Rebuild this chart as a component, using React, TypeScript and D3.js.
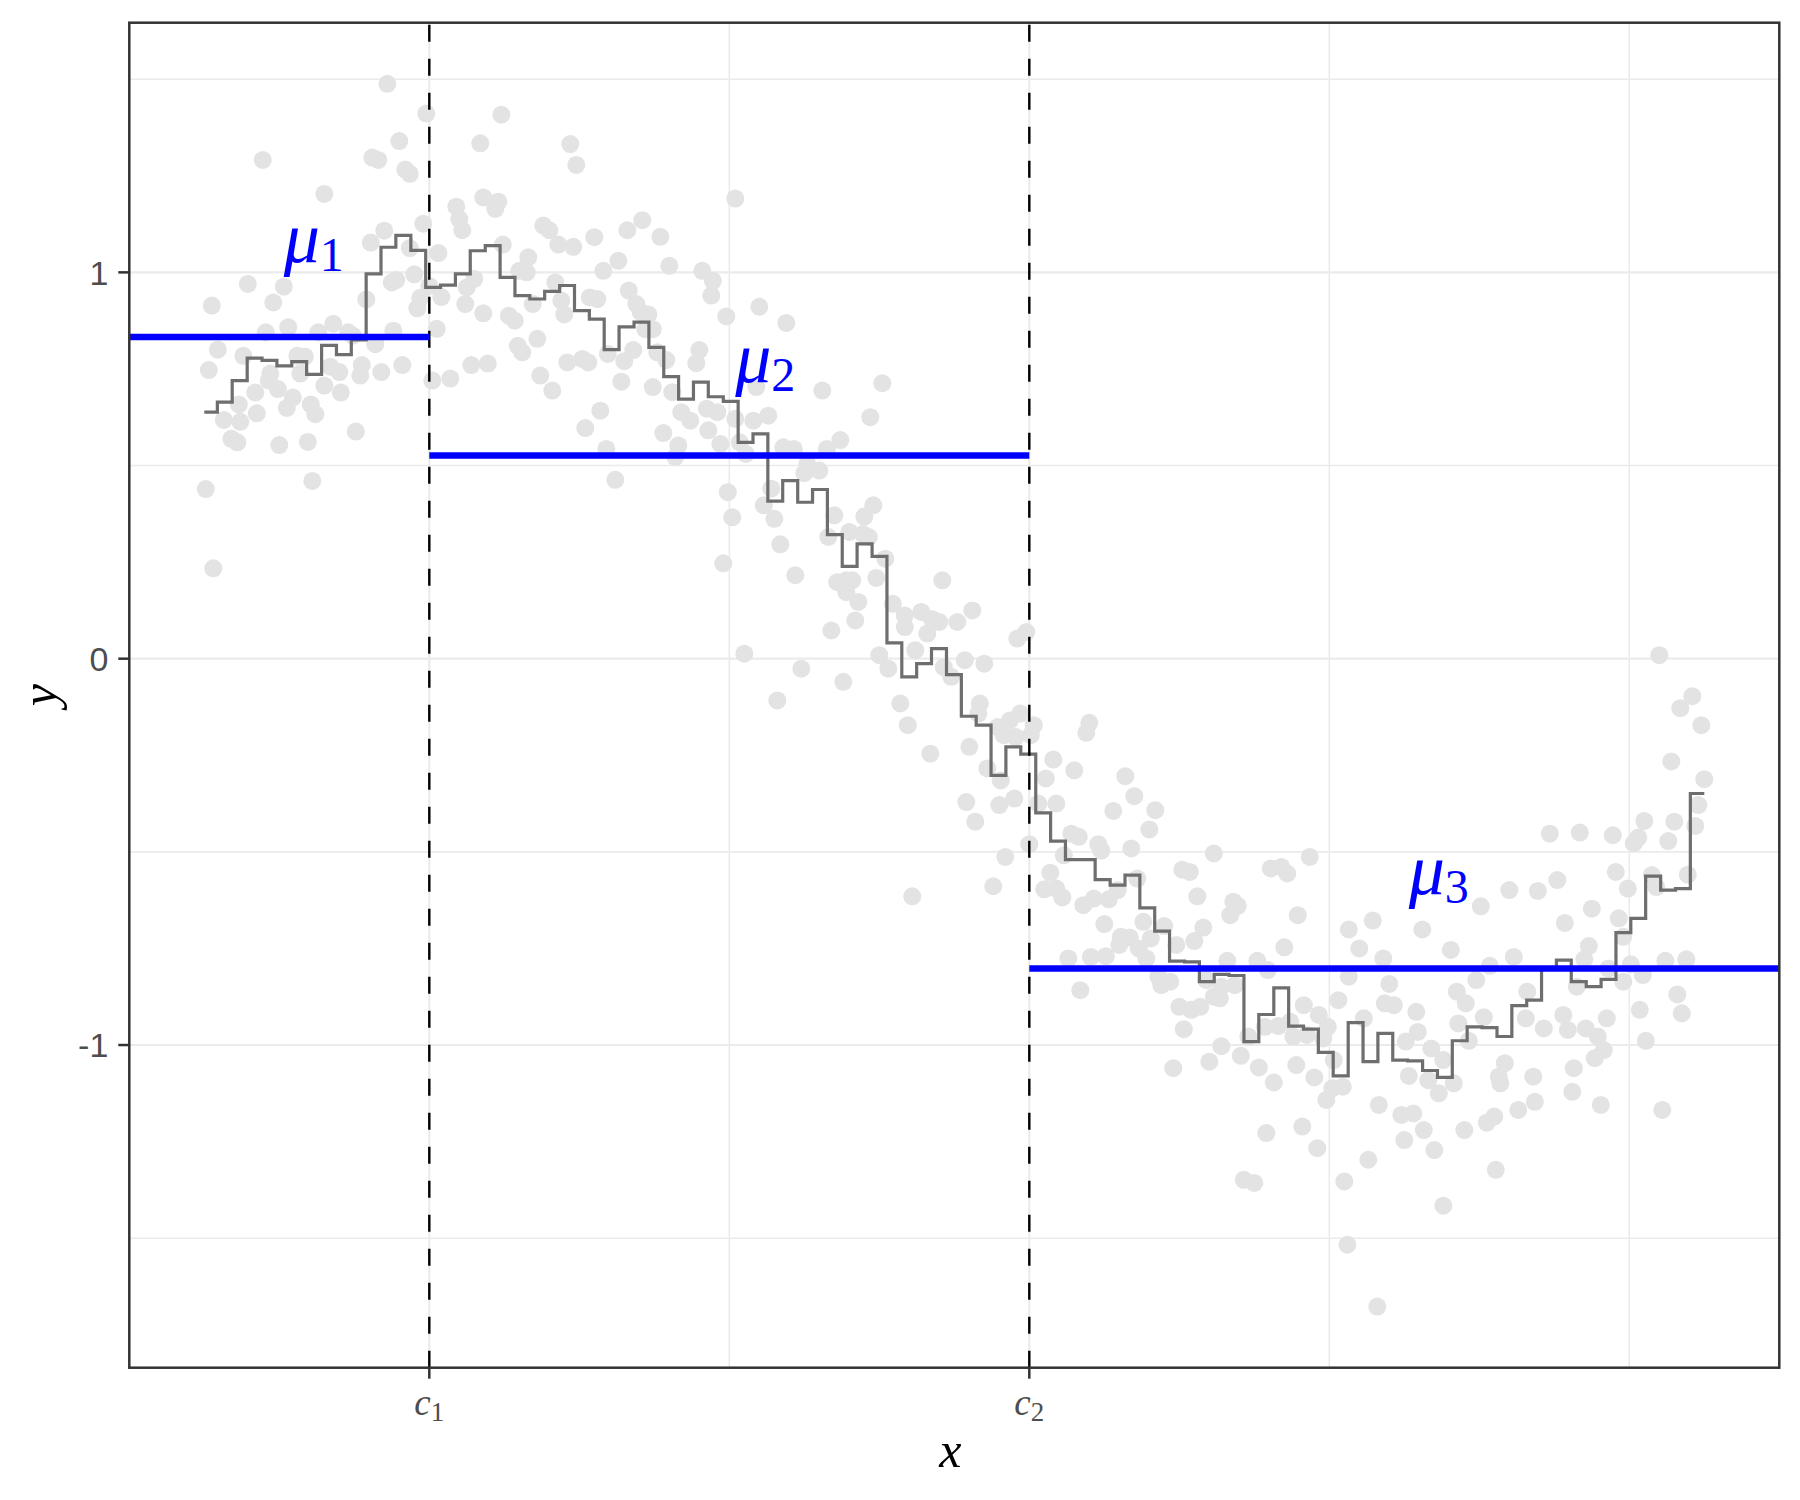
import * as d3 from "d3";

// observed points (x, y)
const pointsLeft: [number, number][] = [
  [0.122, 1.488], [0.148, 1.411], [0.13, 1.34], [0.039, 1.291], [0.112, 1.297], [0.116, 1.291], [0.134, 1.266], [0.137, 1.255],
  [0.08, 1.203], [0.146, 1.126], [0.12, 1.108], [0.111, 1.077], [0.137, 1.063], [0.029, 0.97], [0.053, 0.963], [0.005, 0.914],
  [0.046, 0.922], [0.108, 0.93], [0.125, 0.974], [0.128, 0.98], [0.14, 0.995], [0.144, 0.934], [0.142, 0.907], [0.15, 0.965],
  [0.041, 0.845], [0.056, 0.858], [0.076, 0.845], [0.086, 0.867], [0.096, 0.845], [0.099, 0.836], [0.114, 0.814], [0.126, 0.849],
  [0.009, 0.8], [0.026, 0.784], [0.062, 0.784], [0.067, 0.782], [0.003, 0.747], [0.044, 0.738], [0.064, 0.738], [0.084, 0.756],
  [0.09, 0.742], [0.105, 0.76], [0.104, 0.733], [0.118, 0.742], [0.132, 0.76], [0.152, 0.72], [0.043, 0.72], [0.049, 0.698],
  [0.08, 0.707], [0.091, 0.689], [0.034, 0.689], [0.023, 0.658], [0.059, 0.676], [0.055, 0.649], [0.071, 0.658], [0.074, 0.633],
  [0.013, 0.618], [0.024, 0.613], [0.035, 0.635], [0.018, 0.569], [0.022, 0.56], [0.05, 0.553], [0.069, 0.561], [0.101, 0.588],
  [0.001, 0.439], [0.072, 0.46], [0.006, 0.234],
];

const pointsMiddle: [number, number][] = [
  [0.198, 1.408], [0.184, 1.334], [0.244, 1.332], [0.248, 1.278], [0.186, 1.194], [0.196, 1.183], [0.194, 1.164], [0.168, 1.17],
  [0.17, 1.138], [0.172, 1.109], [0.226, 1.121], [0.23, 1.109], [0.236, 1.072], [0.246, 1.066], [0.26, 1.091], [0.282, 1.109],
  [0.292, 1.135], [0.304, 1.092], [0.354, 1.191], [0.156, 1.05], [0.199, 1.072], [0.216, 1.039], [0.21, 1.004], [0.215, 1.0],
  [0.276, 1.03], [0.266, 1.004], [0.31, 1.017], [0.332, 1.004], [0.339, 0.978], [0.338, 0.94], [0.18, 0.983], [0.175, 0.961],
  [0.158, 0.936], [0.174, 0.918], [0.186, 0.894], [0.155, 0.854], [0.164, 0.725], [0.178, 0.76], [0.189, 0.764],
  [0.203, 0.888], [0.207, 0.875], [0.219, 0.918], [0.234, 0.974], [0.238, 0.927], [0.24, 0.891], [0.257, 0.935], [0.262, 0.931],
  [0.283, 0.953], [0.288, 0.918], [0.291, 0.897], [0.296, 0.891], [0.294, 0.853], [0.299, 0.853], [0.348, 0.886], [0.222, 0.828],
  [0.209, 0.81], [0.212, 0.793], [0.242, 0.767], [0.252, 0.776], [0.256, 0.767], [0.269, 0.789], [0.28, 0.77], [0.286, 0.799],
  [0.302, 0.793], [0.308, 0.773], [0.224, 0.733], [0.232, 0.694], [0.278, 0.717], [0.299, 0.703], [0.312, 0.69], [0.33, 0.799],
  [0.328, 0.765], [0.264, 0.642], [0.254, 0.597], [0.318, 0.638], [0.324, 0.616], [0.335, 0.647], [0.342, 0.638], [0.336, 0.591],
  [0.306, 0.584], [0.316, 0.552], [0.314, 0.522], [0.344, 0.556], [0.268, 0.543], [0.274, 0.463], [0.354, 0.621], [0.357, 0.56],
  [0.349, 0.431], [0.352, 0.366], [0.346, 0.247],
  [0.37, 0.911], [0.388, 0.869], [0.412, 0.694], [0.452, 0.713], [0.444, 0.625], [0.368, 0.703], [0.366, 0.616], [0.376, 0.629],
  [0.361, 0.53], [0.386, 0.547], [0.393, 0.543], [0.415, 0.543], [0.424, 0.566], [0.402, 0.504], [0.41, 0.487], [0.4, 0.48],
  [0.378, 0.44], [0.373, 0.397], [0.38, 0.362], [0.446, 0.397], [0.44, 0.368], [0.42, 0.371], [0.416, 0.315], [0.43, 0.328],
  [0.439, 0.323], [0.443, 0.315], [0.384, 0.296], [0.454, 0.259], [0.394, 0.216], [0.422, 0.198], [0.428, 0.203], [0.432, 0.203],
  [0.448, 0.209], [0.492, 0.203], [0.428, 0.172], [0.436, 0.147], [0.434, 0.099], [0.418, 0.073], [0.459, 0.142], [0.467, 0.112],
  [0.467, 0.082], [0.478, 0.121], [0.485, 0.103], [0.49, 0.095], [0.482, 0.065], [0.502, 0.095], [0.512, 0.125], [0.542, 0.052],
  [0.548, 0.069], [0.36, 0.013], [0.398, -0.026], [0.426, -0.06], [0.382, -0.108], [0.45, 0.009], [0.456, -0.026], [0.464, -0.116],
  [0.469, -0.172], [0.474, 0.022], [0.493, -0.022], [0.498, -0.047], [0.507, -0.004], [0.52, -0.013], [0.484, -0.246], [0.51, -0.228],
  [0.517, -0.116], [0.516, -0.142], [0.529, -0.177], [0.537, -0.16], [0.544, -0.142], [0.553, -0.172], [0.533, -0.198], [0.541, -0.203],
  [0.551, -0.198], [0.522, -0.284], [0.531, -0.315], [0.508, -0.371], [0.53, -0.379], [0.54, -0.362],
  [0.514, -0.422], [0.534, -0.513], [0.526, -0.589], [0.472, -0.615],
];

const pointsRight: [number, number][] = [
  [0.566, -0.261], [0.561, -0.31], [0.568, -0.375],
  [0.59, -0.166], [0.588, -0.192], [0.58, -0.289], [0.614, -0.304], [0.62, -0.356], [0.556, -0.375], [0.606, -0.394], [0.634, -0.392],
  [0.63, -0.442], [0.578, -0.453], [0.583, -0.461], [0.55, -0.48], [0.596, -0.48], [0.598, -0.497], [0.618, -0.491], [0.573, -0.509],
  [0.673, -0.504], [0.737, -0.513], [0.652, -0.546], [0.657, -0.552], [0.711, -0.543], [0.718, -0.539], [0.722, -0.556], [0.564, -0.554],
  [0.622, -0.569], [0.56, -0.597], [0.568, -0.595], [0.572, -0.618], [0.586, -0.638], [0.593, -0.621], [0.603, -0.623], [0.609, -0.599],
  [0.662, -0.615], [0.686, -0.629], [0.689, -0.64], [0.684, -0.664], [0.729, -0.664], [0.6, -0.687], [0.626, -0.681], [0.64, -0.692],
  [0.666, -0.696], [0.763, -0.701], [0.611, -0.72], [0.617, -0.722], [0.61, -0.741], [0.631, -0.724], [0.648, -0.741], [0.66, -0.731],
  [0.72, -0.747], [0.623, -0.75], [0.628, -0.776], [0.576, -0.776], [0.591, -0.772], [0.601, -0.77], [0.682, -0.782], [0.702, -0.782],
  [0.709, -0.806], [0.636, -0.823], [0.638, -0.845], [0.644, -0.836], [0.668, -0.832], [0.584, -0.858], [0.763, -0.823], [0.678, -0.849],
  [0.687, -0.845], [0.673, -0.875], [0.677, -0.879], [0.65, -0.901], [0.658, -0.909], [0.664, -0.901], [0.733, -0.897], [0.756, -0.884],
  [0.743, -0.922], [0.749, -0.953], [0.707, -0.953], [0.716, -0.951], [0.724, -0.94], [0.726, -0.978], [0.735, -0.974], [0.746, -0.983],
  [0.653, -0.959], [0.696, -0.978], [0.678, -1.003], [0.691, -1.028], [0.67, -1.043], [0.646, -1.06], [0.703, -1.058], [0.728, -1.052],
  [0.713, -1.097], [0.74, -1.084], [0.753, -1.039], [0.759, -1.108], [0.752, -1.112], [0.748, -1.142], [0.708, -1.228], [0.732, -1.211],
  [0.742, -1.267], [0.693, -1.349], [0.7, -1.357],
  [0.897, -0.453], [0.917, -0.45], [0.939, -0.457], [0.96, -0.42], [0.902, -0.573], [0.941, -0.552], [0.949, -0.595],
  [0.87, -0.599], [0.889, -0.601], [0.851, -0.641], [0.925, -0.647], [0.907, -0.684], [0.943, -0.672], [0.946, -0.72], [0.779, -0.678],
  [0.812, -0.701], [0.77, -0.75], [0.786, -0.776], [0.831, -0.754], [0.873, -0.772], [0.923, -0.744], [0.92, -0.778], [0.857, -0.795],
  [0.79, -0.842], [0.848, -0.832], [0.951, -0.791], [0.959, -0.819], [0.946, -0.836], [0.936, -0.802], [0.915, -0.849], [0.787, -0.892],
  [0.793, -0.897], [0.835, -0.862], [0.841, -0.892], [0.882, -0.862], [0.808, -0.914], [0.773, -0.931], [0.836, -0.944], [0.853, -0.928],
  [0.881, -0.931], [0.957, -0.909], [0.893, -0.957], [0.906, -0.922], [0.909, -0.961], [0.921, -0.957], [0.929, -0.978], [0.935, -0.931],
  [0.961, -0.989], [0.809, -0.966], [0.801, -0.991], [0.818, -1.009], [0.843, -0.989], [0.933, -1.013], [0.927, -1.034], [0.803, -1.08],
  [0.816, -1.091], [0.823, -1.125], [0.833, -1.099], [0.826, -1.039], [0.867, -1.047], [0.863, -1.082], [0.864, -1.099], [0.886, -1.082],
  [0.913, -1.06], [0.912, -1.121], [0.783, -1.155], [0.798, -1.181], [0.806, -1.177], [0.813, -1.22], [0.8, -1.246], [0.82, -1.272],
  [0.84, -1.22], [0.855, -1.201], [0.86, -1.185], [0.876, -1.168], [0.887, -1.147], [0.931, -1.155], [0.776, -1.297], [0.76, -1.353],
  [0.861, -1.323], [0.826, -1.416], [0.762, -1.517], [0.782, -1.677],
  [0.97, 0.009], [0.992, -0.097], [0.984, -0.128], [0.998, -0.172], [0.978, -0.266], [1.0, -0.312], [0.996, -0.379], [0.994, -0.433],
  [0.98, -0.422], [0.956, -0.463], [0.953, -0.478], [0.976, -0.472], [0.965, -0.56], [0.968, -0.591], [0.989, -0.559],
  [0.974, -0.782], [0.988, -0.778], [0.982, -0.869], [0.985, -0.918], [0.972, -1.168],
];

// step estimate: breakpoints and levels
const stepX = [
  0, 0.0087, 0.0186, 0.0286, 0.0385, 0.0484, 0.0583, 0.0682, 0.0782, 0.0881, 0.098, 0.1079, 0.1178, 0.1277, 0.1377, 0.1476,
  0.1575, 0.1674, 0.1773, 0.1873, 0.1972, 0.2071, 0.217, 0.2269, 0.2369, 0.2468, 0.2567, 0.2666, 0.2765, 0.2865, 0.2964,
  0.3063, 0.3162, 0.3261, 0.336, 0.346, 0.3559, 0.3658, 0.3757, 0.3856, 0.3956, 0.4055, 0.4154, 0.4253, 0.4352, 0.4452,
  0.4551, 0.465, 0.4749, 0.4848, 0.4948, 0.5047, 0.5146, 0.5245, 0.5344, 0.5443, 0.5543, 0.5642, 0.5741, 0.584, 0.5939,
  0.6039, 0.6138, 0.6237, 0.6336, 0.6435, 0.6535, 0.6634, 0.6733, 0.6832, 0.6931, 0.703, 0.713, 0.7229, 0.7328, 0.7427,
  0.7526, 0.7626, 0.7725, 0.7824, 0.7923, 0.8022, 0.8122, 0.8221, 0.832, 0.8419, 0.8518, 0.8618, 0.8717, 0.8816, 0.8915,
  0.9014, 0.9113, 0.9213, 0.9312, 0.9411, 0.951, 0.9609, 0.9709, 0.9808, 0.9907, 1.0,
];
const stepY = [
  0.638, 0.664, 0.72, 0.778, 0.772, 0.758, 0.769, 0.736, 0.811, 0.787, 0.825, 0.996, 1.065, 1.096, 1.057, 0.961,
  0.967, 0.996, 1.056, 1.069, 0.987, 0.94, 0.931, 0.951, 0.966, 0.901, 0.879, 0.8, 0.859, 0.871, 0.806,
  0.73, 0.672, 0.716, 0.678, 0.666, 0.56, 0.582, 0.408, 0.461, 0.405, 0.438, 0.321, 0.239, 0.297, 0.265,
  0.041, -0.047, -0.013, 0.026, -0.041, -0.149, -0.172, -0.302, -0.228, -0.247, -0.399, -0.472, -0.52, -0.52, -0.572,
  -0.586, -0.56, -0.645, -0.705, -0.783, -0.785, -0.836, -0.817, -0.82, -0.991, -0.921, -0.852, -0.951, -0.959, -1.019,
  -1.08, -0.942, -1.043, -0.97, -1.039, -1.041, -1.066, -1.084, -0.989, -0.953, -0.955, -0.978, -0.898, -0.884, -0.802,
  -0.78, -0.836, -0.849, -0.83, -0.709, -0.672, -0.563, -0.599, -0.595, -0.349,
];

// change points and segment means
const changePoints = [0.15, 0.55];
const changeLabels = ["1", "2"];
const segStart = [-Infinity, 0.15, 0.55];
const segEnd = [0.15, 0.55, Infinity];
const segMean = [0.833, 0.526, -0.802];
const muLabelX = [0.073, 0.374, 0.823];
const muLabelY = [1.026, 0.715, -0.61];
const muLabelSub = ["1", "2", "3"];

const yBreaks = [-1, 0, 1];
const yLabels = ["-1", "0", "1"];
const yMinor = [-1.5, -0.5, 0.5, 1.5];
const xMinor = [0.35, 0.75, 0.95];

const W = 1800;
const H = 1500;
const margin = { top: 22.7, right: 20.7, bottom: 132.3, left: 129.3 };
const SERIF = "'Liberation Serif', 'DejaVu Serif', serif";
const SANS = "'Liberation Sans', Arial, sans-serif";

export default function App() {
  const allPoints = [...pointsLeft, ...pointsMiddle, ...pointsRight];
  const xExt = [0, 1];
  const yExt = d3.extent(allPoints, (d) => d[1]) as [number, number];
  const xPad = (xExt[1] - xExt[0]) * 0.05;
  const yPad = (yExt[1] - yExt[0]) * 0.05;
  const x = d3.scaleLinear().domain([xExt[0] - xPad, xExt[1] + xPad]).range([margin.left, W - margin.right]);
  const y = d3.scaleLinear().domain([yExt[0] - yPad, yExt[1] + yPad]).range([H - margin.bottom, margin.top]);
  const [x0, x1] = x.range();
  const [y0, y1] = y.range();

  const stepPts: [number, number][] = stepX.map((v, i) => [v, stepY[Math.min(i, stepY.length - 1)]]);
  const stepLine = d3.line<[number, number]>().x((d) => x(d[0])).y((d) => y(d[1])).curve(d3.curveStepAfter);
  const clampX = (v: number) => (Number.isFinite(v) ? x(v) : v < 0 ? x0 : x1);

  return (
    <div style={{ position: "absolute", left: 0, top: 0 }}>
      <svg width={W} height={H} viewBox={`0 0 ${W} ${H}`} style={{ display: "block", background: "#fff" }}>
        <rect x={0} y={0} width={W} height={H} fill="#fff" />
        {/* grid */}
        {yMinor.map((t) => (
          <line key={`ym${t}`} x1={x0} x2={x1} y1={y(t)} y2={y(t)} stroke="#EBEBEB" strokeWidth={1.6} />
        ))}
        {xMinor.map((t) => (
          <line key={`xm${t}`} y1={y0} y2={y1} x1={x(t)} x2={x(t)} stroke="#EBEBEB" strokeWidth={1.6} />
        ))}
        {yBreaks.map((t) => (
          <line key={`yg${t}`} x1={x0} x2={x1} y1={y(t)} y2={y(t)} stroke="#EBEBEB" strokeWidth={2.2} />
        ))}
        {changePoints.map((t) => (
          <line key={`xg${t}`} y1={y0} y2={y1} x1={x(t)} x2={x(t)} stroke="#EBEBEB" strokeWidth={2.2} />
        ))}

        {/* data */}
        {allPoints.map((d, i) => (
          <circle key={i} cx={x(d[0])} cy={y(d[1])} r={9} fill="#E3E3E3" />
        ))}
        <path d={stepLine(stepPts) ?? ""} fill="none" stroke="#6E6E6E" strokeWidth={3.2} />
        {changePoints.map((t) => (
          <line key={`cp${t}`} x1={x(t)} x2={x(t)} y1={y0} y2={y1} stroke="#000" strokeWidth={2.4} strokeDasharray="17 17" />
        ))}
        {segMean.map((m, i) => (
          <line key={`mu${i}`} x1={clampX(segStart[i])} x2={clampX(segEnd[i])} y1={y(m)} y2={y(m)} stroke="#0000FF" strokeWidth={6.5} />
        ))}
        {muLabelX.map((lx, i) => (
          <text key={`ml${i}`} x={x(lx)} y={y(muLabelY[i])} textAnchor="middle" fill="#0000FF" fontFamily={SERIF}>
            <tspan fontStyle="italic" fontSize={72}>μ</tspan>
            <tspan fontSize={48} dy={9}>{muLabelSub[i]}</tspan>
          </text>
        ))}

        {/* panel border */}
        <rect x={x0} y={y1} width={x1 - x0} height={y0 - y1} fill="none" stroke="#333333" strokeWidth={2.5} />

        {/* y axis */}
        {yBreaks.map((t, i) => (
          <g key={`yt${t}`}>
            <line x1={x0 - 11} x2={x0} y1={y(t)} y2={y(t)} stroke="#333333" strokeWidth={2.5} />
            <text x={x0 - 21} y={y(t)} dy="0.36em" textAnchor="end" fontFamily={SANS} fontSize={34} fill="#4D4D4D">
              {yLabels[i]}
            </text>
          </g>
        ))}
        {/* x axis */}
        {changePoints.map((t, i) => (
          <g key={`xt${t}`}>
            <line x1={x(t)} x2={x(t)} y1={y0} y2={y0 + 11} stroke="#333333" strokeWidth={2.5} />
            <text x={x(t)} y={y0 + 47} textAnchor="middle" fontFamily={SERIF} fill="#4D4D4D">
              <tspan fontStyle="italic" fontSize={37}>c</tspan>
              <tspan fontSize={27} dy={6}>{changeLabels[i]}</tspan>
            </text>
          </g>
        ))}
        <text x={(x0 + x1) / 2 - 4} y={H - 33} textAnchor="middle" fontFamily={SERIF} fontStyle="italic" fontSize={50} fill="#000">
          x
        </text>
        <text
          transform={`translate(56, ${(y0 + y1) / 2}) rotate(-90)`}
          textAnchor="middle"
          fontFamily={SERIF}
          fontStyle="italic"
          fontSize={50}
          fill="#000"
        >
          y
        </text>
      </svg>
    </div>
  );
}
